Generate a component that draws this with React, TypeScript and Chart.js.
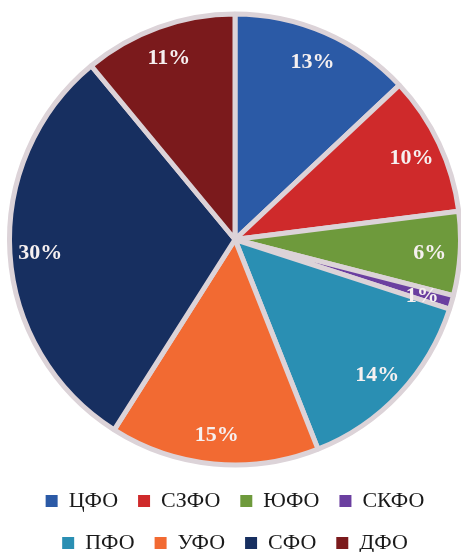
import { useEffect, useRef } from "react";
import { Chart, registerables } from "chart.js";

Chart.register(...registerables);

const categories = ["ЦФО", "СЗФО", "ЮФО", "СКФО", "ПФО", "УФО", "СФО", "ДФО"];
const shares = [13, 10, 6, 1, 14, 15, 30, 11];
const sliceColors = ["#2b5aa6", "#cf2a2b", "#6e9a3c", "#6b3fa0", "#2a8fb3", "#f26a32", "#172f60", "#7b1a1c"];

const SERIF = "'Liberation Serif', 'Times New Roman', serif";

const sliceLabels = {
  id: "sliceLabels",
  afterDatasetsDraw(chart: any) {
    const ctx = chart.ctx;
    const meta = chart.getDatasetMeta(0);
    const values = chart.data.datasets[0].data;
    ctx.save();
    ctx.font = `bold 22px ${SERIF}`;
    ctx.fillStyle = "#f6f0f0";
    ctx.textAlign = "center";
    ctx.textBaseline = "middle";
    meta.data.forEach((arc: any, i: number) => {
      const { x, y, startAngle, endAngle, outerRadius } = arc.getProps(
        ["x", "y", "startAngle", "endAngle", "outerRadius"],
        true
      );
      const mid = (startAngle + endAngle) / 2;
      const r = outerRadius * 0.865;
      ctx.fillText(values[i] + "%", x + Math.cos(mid) * r, y + Math.sin(mid) * r + 2);
    });
    ctx.restore();
  },
};

export default function App() {
  const canvasRef = useRef<HTMLCanvasElement | null>(null);

  useEffect(() => {
    if (!canvasRef.current) return;
    const baseGenerate = (Chart as any).overrides.pie.plugins.legend.labels.generateLabels;
    const chart = new Chart(canvasRef.current, {
      type: "pie",
      data: {
        labels: categories,
        datasets: [
          {
            data: shares,
            backgroundColor: sliceColors,
            borderColor: "#dcd3d8",
            borderWidth: 5,
            radius: 225.5,
          } as any,
        ],
      },
      options: {
        animation: false,
        responsive: true,
        maintainAspectRatio: false,
        layout: { padding: { top: 9, left: 9, right: 0, bottom: -12 } },
        plugins: {
          tooltip: { enabled: false },
          legend: {
            position: "bottom",
            labels: {
              boxWidth: 12,
              boxHeight: 12,
              padding: 20,
              color: "#1a1a1a",
              font: { family: SERIF, size: 22 },
              generateLabels: (c: any) =>
                baseGenerate(c).map((item: any) => ({
                  ...item,
                  lineWidth: 0,
                  strokeStyle: item.fillStyle,
                })),
            },
          },
        },
      },
      plugins: [sliceLabels],
    });
    return () => chart.destroy();
  }, []);

  return (
    <div style={{ position: "absolute", left: 0, top: 0, width: 461, height: 552, background: "#ffffff" }}>
      <canvas ref={canvasRef} style={{ display: "block" }} />
    </div>
  );
}
